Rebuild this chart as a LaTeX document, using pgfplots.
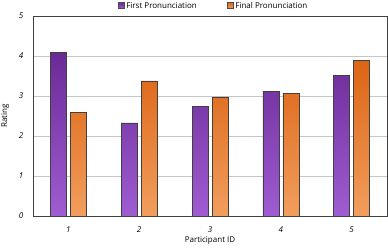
\documentclass[border=0pt]{standalone}
\usepackage{pgfplots}
\pgfplotsset{compat=1.18}
\usepackage{fontspec}
\setmainfont{Open Sans}
\definecolor{pdark}{HTML}{6A2A96}
\definecolor{plight}{HTML}{A05CD2}
\definecolor{odark}{HTML}{DC6414}
\definecolor{olight}{HTML}{F29E5E}
\begin{document}
\begin{tikzpicture}
\begin{axis}[
  scale only axis,
  width=354pt, height=200pt,
  ybar, bar width=16pt,
  xmin=0.5, xmax=5.5,
  ymin=0, ymax=5,
  xtick={1,2,3,4,5},
  ytick={0,1,2,3,4,5},
  ymajorgrids,
  grid style={gray!45, line width=0.6pt},
  axis line style={black!75},
  x axis line style={line width=1pt, black!80},
  tick style={draw=none},
  ticklabel style={font=\fontsize{8}{9}\selectfont\itshape},
  xticklabel style={anchor=center, yshift=-9pt},
  yticklabel style={anchor=center, xshift=-12pt},
  /pgf/number format/assume math mode=true,
  xlabel={Participant ID},
  ylabel={Rating},
  label style={font=\fontsize{8}{9}\selectfont},
  xlabel style={at={(axis description cs:0.5,-0.125)}, anchor=center},
  ylabel style={at={(axis description cs:-0.079,0.5)}, anchor=center},
  legend style={at={(axis description cs:0.51,1.02)}, anchor=south, draw=none, fill=none,
    inner sep=0pt, legend columns=2, font=\fontsize{8}{9}\selectfont,
    /tikz/every even column/.append style={column sep=28pt}},
  legend image code/.code={\draw[#1, draw=black!70] (0pt,-2.5pt) rectangle (6pt,3.5pt);},
]
\addplot[draw=black!75, line width=0.6pt, top color=pdark, bottom color=plight, bar shift=-10pt]
  coordinates {(1,4.10) (2,2.33) (3,2.75) (4,3.12) (5,3.52)};
\addplot[draw=black!75, line width=0.6pt, top color=odark, bottom color=olight, bar shift=10pt]
  coordinates {(1,2.60) (2,3.38) (3,2.98) (4,3.07) (5,3.90)};
\legend{First Pronunciation, Final Pronunciation}
\end{axis}
\pgfresetboundingbox
\path (-33pt,-31pt) rectangle (355pt,216pt);
\end{tikzpicture}
\end{document}
